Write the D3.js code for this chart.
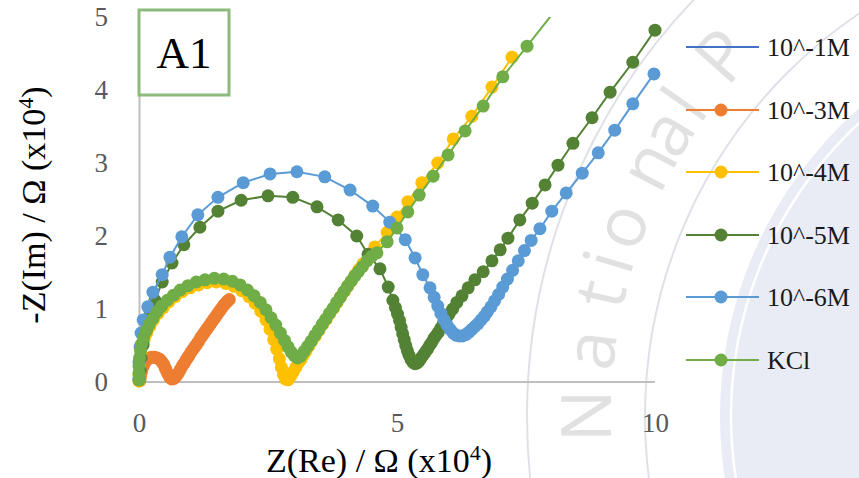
<!DOCTYPE html>
<html><head><meta charset="utf-8">
<script src="https://cdn.jsdelivr.net/npm/d3@7"></script>
<style>body{margin:0;background:#fff;} svg{display:block;}</style>
</head><body>
<svg id="chart" width="859" height="478"></svg>
<script>
// ---------- data ----------
const seriesNames  = ["10^-1M", "10^-3M", "10^-4M", "10^-5M", "10^-6M", "KCl"];
const seriesColors = ["#4472C4", "#ED7D31", "#FFC000", "#548235", "#5B9BD5", "#70AD47"];
const xTicks = [0, 5, 10];
const yTicks = [0, 1, 2, 3, 4, 5];

const re_1M = [];
const im_1M = [];

const re_3M = [0.02,0.03,0.05,0.08,0.11,0.15,0.20,0.25,0.30,0.35,0.40,0.44,0.48,0.51,0.54,0.57,0.60,0.64,0.68,0.72,0.76,0.80,0.84,0.88,0.92,0.96,1.00,1.04,1.08,1.12,1.16,1.20,1.24,1.28,1.32,1.36,1.40,1.44,1.48,1.52,1.56,1.60,1.64,1.68,1.72,1.75];
const im_3M = [0.02,0.08,0.14,0.21,0.26,0.30,0.33,0.34,0.34,0.33,0.31,0.28,0.24,0.19,0.14,0.10,0.06,0.04,0.05,0.08,0.12,0.17,0.22,0.26,0.31,0.35,0.40,0.44,0.48,0.52,0.56,0.61,0.65,0.69,0.73,0.77,0.81,0.85,0.89,0.93,0.97,1.01,1.05,1.08,1.11,1.13];

const re_4M = [0.00,0.00,0.01,0.02,0.04,0.06,0.10,0.15,0.21,0.28,0.37,0.47,0.58,0.70,0.84,0.99,1.15,1.32,1.50,1.68,1.84,1.99,2.13,2.25,2.36,2.46,2.54,2.61,2.67,2.72,2.76,2.80,2.84,2.89,2.94,2.99,3.04,3.09,3.14,3.19,3.24,3.29,3.35,3.42,3.49,3.56,3.63,3.70,3.77,3.84,3.91,3.98,4.05,4.12,4.19,4.26,4.34,4.46,4.57,4.81,5.00,5.21,5.48,5.79,6.09,6.45,6.84,7.23];
const im_4M = [0.01,0.10,0.20,0.30,0.40,0.49,0.58,0.67,0.76,0.85,0.94,1.02,1.10,1.17,1.24,1.29,1.33,1.36,1.37,1.35,1.31,1.25,1.17,1.08,0.97,0.85,0.72,0.58,0.45,0.32,0.20,0.10,0.04,0.03,0.08,0.14,0.20,0.26,0.31,0.37,0.43,0.49,0.56,0.63,0.71,0.79,0.86,0.94,1.01,1.09,1.17,1.24,1.32,1.39,1.47,1.54,1.62,1.73,1.85,2.05,2.26,2.47,2.73,3.00,3.33,3.64,4.04,4.45];

const re_5M = [0.00,0.02,0.04,0.08,0.14,0.21,0.31,0.45,0.64,0.87,1.18,1.53,1.98,2.50,2.98,3.45,3.86,4.22,4.44,4.67,4.83,4.92,4.97,5.01,5.05,5.08,5.11,5.14,5.17,5.20,5.23,5.27,5.31,5.35,5.39,5.43,5.47,5.51,5.55,5.59,5.63,5.67,5.71,5.75,5.80,5.85,5.90,5.95,6.01,6.08,6.16,6.26,6.38,6.51,6.67,6.84,7.00,7.15,7.38,7.62,7.87,8.12,8.41,8.78,9.13,9.57,10.00];
const im_5M = [0.03,0.16,0.33,0.51,0.71,0.92,1.12,1.37,1.63,1.88,2.12,2.34,2.49,2.55,2.53,2.40,2.22,2.00,1.75,1.55,1.30,1.12,1.02,0.93,0.84,0.75,0.66,0.58,0.50,0.43,0.37,0.31,0.27,0.25,0.26,0.29,0.33,0.37,0.41,0.45,0.50,0.54,0.59,0.63,0.68,0.74,0.80,0.86,0.93,1.00,1.09,1.18,1.29,1.40,1.51,1.66,1.81,1.97,2.22,2.45,2.70,2.97,3.27,3.62,3.97,4.38,4.82];

const re_6M = [0.00,0.00,0.02,0.04,0.08,0.17,0.27,0.45,0.60,0.83,1.14,1.53,2.02,2.54,3.06,3.60,4.09,4.53,4.86,5.16,5.35,5.50,5.64,5.72,5.79,5.85,5.91,5.97,6.03,6.09,6.15,6.21,6.27,6.33,6.39,6.45,6.51,6.57,6.63,6.69,6.75,6.82,6.89,6.97,7.05,7.14,7.24,7.35,7.47,7.60,7.77,8.00,8.28,8.59,8.90,9.22,9.57,9.98];
const im_6M = [0.05,0.27,0.48,0.67,0.85,1.03,1.23,1.47,1.71,1.99,2.29,2.53,2.73,2.85,2.88,2.81,2.63,2.41,2.19,1.95,1.70,1.47,1.29,1.16,1.04,0.94,0.85,0.78,0.72,0.67,0.64,0.63,0.63,0.65,0.68,0.72,0.76,0.80,0.85,0.90,0.96,1.03,1.11,1.20,1.30,1.41,1.53,1.66,1.80,1.94,2.10,2.34,2.59,2.86,3.14,3.45,3.81,4.22];

const re_KCl = [0.00,0.00,0.00,0.01,0.03,0.05,0.09,0.14,0.20,0.27,0.35,0.44,0.55,0.67,0.80,0.95,1.11,1.28,1.46,1.64,1.81,1.96,2.10,2.23,2.35,2.46,2.56,2.65,2.74,2.82,2.89,2.95,3.01,3.07,3.13,3.20,3.27,3.34,3.41,3.48,3.55,3.62,3.69,3.76,3.83,3.90,3.97,4.04,4.11,4.18,4.25,4.33,4.42,4.51,4.61,4.81,5.00,5.21,5.43,5.70,5.99,6.32,6.67,7.05,7.52,8.10];
const im_KCl = [0.03,0.12,0.22,0.33,0.43,0.52,0.61,0.70,0.79,0.87,0.96,1.04,1.12,1.19,1.26,1.32,1.37,1.40,1.42,1.41,1.38,1.33,1.26,1.18,1.09,0.99,0.88,0.78,0.67,0.57,0.48,0.41,0.36,0.33,0.35,0.42,0.49,0.56,0.64,0.71,0.79,0.86,0.94,1.01,1.09,1.16,1.24,1.31,1.38,1.45,1.51,1.58,1.66,1.72,1.77,1.92,2.11,2.33,2.56,2.82,3.11,3.44,3.78,4.18,4.60,5.12];

const seriesRe = [re_1M, re_3M, re_4M, re_5M, re_6M, re_KCl];
const seriesIm = [im_1M, im_3M, im_4M, im_5M, im_6M, im_KCl];
const seriesMarker = [false, true, true, true, true, true];

// watermark letters (decoration of the reference background)
const wmLetters = ["N", "a", "t", "i", "o", "n", "a", "l", "P"];
const wmAngles  = [180, 187, 193, 196.5, 200.5, 207.5, 211.5, 215, 221.5];

// ---------- drawing ----------
const svg = d3.select("#chart");
const serif = "'Liberation Serif','Times New Roman',serif";

// watermark background
const wm = svg.append("g");
const cx = 1130, cy = 416;
wm.append("circle").attr("cx", cx).attr("cy", cy).attr("r", 410).attr("fill", "#e9ecf5");
wm.append("circle").attr("cx", cx).attr("cy", cy).attr("r", 399).attr("fill", "none").attr("stroke", "#ffffff").attr("stroke-width", 2.5);
wm.append("circle").attr("cx", cx).attr("cy", cy).attr("r", 485).attr("fill", "none").attr("stroke", "#dfe1e8").attr("stroke-width", 2);
wm.append("circle").attr("cx", cx).attr("cy", cy).attr("r", 603).attr("fill", "none").attr("stroke", "#dfe1e8").attr("stroke-width", 2);
wmLetters.forEach((ch, i) => {
  const a = wmAngles[i] * Math.PI / 180, r = 540;
  const px = cx + r * Math.cos(a), py = cy + r * Math.sin(a);
  wm.append("text")
    .attr("transform", `translate(${px},${py}) rotate(${wmAngles[i] + 90})`)
    .attr("text-anchor", "middle").attr("dy", "0.3em")
    .attr("font-family", "'Open Sans','DejaVu Sans',sans-serif")
    .attr("font-size", 70).attr("fill", "#e1e1e1").text(ch);
});

const x = d3.scaleLinear().domain([0, 10]).range([139, 655]);
const y = d3.scaleLinear().domain([0, 5]).range([382, 17]);

// axes
const gx = svg.append("g").attr("transform", `translate(0,${y(0)})`)
  .call(d3.axisBottom(x).tickValues(xTicks).tickSize(0).tickPadding(31).tickFormat(d3.format("d")));
const gy = svg.append("g").attr("transform", `translate(${x(0)},0)`)
  .call(d3.axisLeft(y).tickValues(yTicks).tickSize(0).tickPadding(31).tickFormat(d3.format("d")));
[gx, gy].forEach(g => {
  g.select(".domain").attr("stroke", "#bfbfbf").attr("stroke-width", 2);
  g.selectAll("text").attr("font-family", serif).attr("font-size", 27).attr("fill", "#595959");
});
gx.select(".domain").attr("d", `M${x(0)},0H${x(10)}`);

// clip
svg.append("clipPath").attr("id", "plotclip").append("rect")
  .attr("x", 100).attr("y", y(5)).attr("width", 600).attr("height", 400);

const plot = svg.append("g").attr("clip-path", "url(#plotclip)");
const line = d3.line().x(d => x(d[0])).y(d => y(d[1]));

seriesNames.forEach((name, i) => {
  const pts = seriesRe[i].map((v, j) => [v, seriesIm[i][j]]);
  const g = plot.append("g");
  g.append("path").datum(pts).attr("d", line).attr("fill", "none")
    .attr("stroke", seriesColors[i]).attr("stroke-width", 2);
  if (seriesMarker[i]) {
    g.selectAll("circle").data(pts).join("circle")
      .attr("cx", d => x(d[0])).attr("cy", d => y(d[1])).attr("r", 6.5)
      .attr("fill", seriesColors[i]);
  }
});

// A1 box
svg.append("rect").attr("x", 139).attr("y", 10).attr("width", 90).attr("height", 85)
  .attr("fill", "#fff").attr("stroke", "#8cb97c").attr("stroke-width", 3);
svg.append("text").attr("x", 184).attr("y", 68).attr("text-anchor", "middle")
  .attr("font-family", serif).attr("font-size", 45).attr("fill", "#000").text("A1");

// axis titles
const xt = svg.append("text").attr("x", 379).attr("y", 472).attr("text-anchor", "middle")
  .attr("font-family", serif).attr("font-size", 34).attr("fill", "#000");
xt.append("tspan").text("Z(Re) / Ω (x10");
xt.append("tspan").attr("dy", -12).attr("font-size", 22).text("4");
xt.append("tspan").attr("dy", 12).text(")");

const yt = svg.append("text").attr("transform", "translate(45,205) rotate(-90)").attr("text-anchor", "middle")
  .attr("font-family", serif).attr("font-size", 34).attr("fill", "#000");
yt.append("tspan").text("-Z(Im) / Ω (x10");
yt.append("tspan").attr("dy", -12).attr("font-size", 22).text("4");
yt.append("tspan").attr("dy", 12).text(")");

// legend
const legendY = [47, 110, 172, 235, 297, 360];
const lg = svg.append("g");
seriesNames.forEach((name, i) => {
  const row = lg.append("g").attr("transform", `translate(0,${legendY[i]})`);
  row.append("line").attr("x1", 686).attr("x2", 759).attr("y1", 0).attr("y2", 0)
    .attr("stroke", seriesColors[i]).attr("stroke-width", 2);
  if (seriesMarker[i]) row.append("circle").attr("cx", 721).attr("cy", 0).attr("r", 6.5).attr("fill", seriesColors[i]);
  row.append("text").attr("x", 767).attr("y", 0).attr("dy", "0.35em")
    .attr("font-family", serif).attr("font-size", 26).attr("fill", "#1a1a1a").text(name);
});
</script>
</body></html>
